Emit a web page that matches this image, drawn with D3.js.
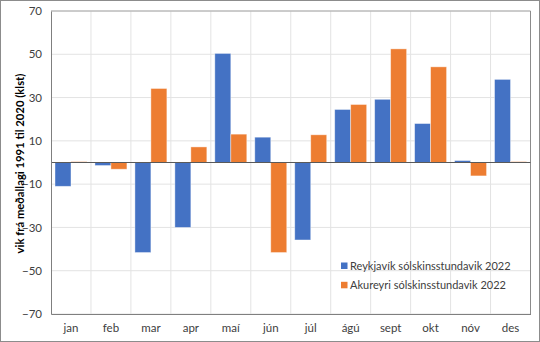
<!DOCTYPE html>
<html><head><meta charset="utf-8">
<script src="https://cdn.jsdelivr.net/npm/d3@7"></script>
<style>body{margin:0;background:#fff}svg{display:block}</style>
</head><body><svg id="c" width="540" height="342"></svg>
<script>
const months = ["jan","feb","mar","apr","maí","jún","júl","ágú","sept","okt","nóv","des"];
const reykjavik = [-11, -1.4, -41.6, -30, 50.4, 11.7, -35.8, 24.5, 29.2, 18.0, 0.9, 38.4];
const akureyri = [0.4, -3.1, 34.2, 7.2, 13.1, -41.6, 12.8, 26.8, 52.5, 44.2, -6.2, 0.4];
const yTicks = [-70, -50, -30, -10, 10, 30, 50, 70];
const seriesNames = ["Reykjavík sólskinsstundavik 2022", "Akureyri sólskinsstundavik 2022"];
const colors = ["#4472C4", "#ED7D31"];

const svg = d3.select("#c");
const font = "Lato, 'Liberation Sans', sans-serif";
svg.append("rect").attr("x",0.5).attr("y",0.5).attr("width",539).attr("height",341)
  .attr("fill","#fff").attr("stroke","#8c8c8c");

const L = 51, R = 530.5, T = 11, B = 314;
const x = d3.scaleBand().domain(months).range([L, R]).paddingInner(0).paddingOuter(0);
const x1 = d3.scaleBand().domain([0,1]).range([0, x.bandwidth()]).paddingOuter(0.25).paddingInner(0);
const y = d3.scaleLinear().domain([-70, 70]).range([B, T]);

// horizontal grid
svg.append("g").selectAll("line").data(yTicks).join("line")
  .attr("x1", L).attr("x2", R).attr("y1", d => y(d)).attr("y2", d => y(d))
  .attr("stroke", "#e3e3e3").attr("stroke-width", 1);
// vertical grid
svg.append("g").selectAll("line").data(months.slice(1)).join("line")
  .attr("x1", d => x(d)).attr("x2", d => x(d)).attr("y1", T).attr("y2", B)
  .attr("stroke", "#e3e3e3").attr("stroke-width", 1);

// plot frame
svg.append("line").attr("x1",L).attr("x2",R).attr("y1",T).attr("y2",T).attr("stroke","#a6a6a6");
svg.append("line").attr("x1",R).attr("x2",R).attr("y1",T).attr("y2",B).attr("stroke","#8c8c8c");

// bars
const g = svg.append("g");
months.forEach((m, i) => {
  [reykjavik[i], akureyri[i]].forEach((v, s) => {
    g.append("rect")
      .attr("x", x(m) + x1(s))
      .attr("width", x1.bandwidth())
      .attr("y", y(Math.max(0, v)))
      .attr("height", Math.abs(y(v) - y(0)))
      .attr("fill", colors[s])
      .attr("stroke", "#ffffff").attr("stroke-opacity", 0.5).attr("stroke-width", 0.8);
  });
});

// zero line
svg.append("line").attr("x1",L).attr("x2",R).attr("y1",y(0)).attr("y2",y(0)).attr("stroke","#595959").attr("stroke-width",1);

// axes
const yAxis = svg.append("g").attr("transform", `translate(${L},0)`)
  .call(d3.axisLeft(y).tickValues(yTicks).tickSize(0).tickPadding(9));
yAxis.select(".domain").attr("stroke", "#7f7f7f");
yAxis.selectAll("text").attr("font-family", font).attr("font-size", 11.5).attr("fill", "#404040");

const xAxis = svg.append("g").attr("transform", `translate(0,${B})`)
  .call(d3.axisBottom(x).tickSize(0).tickPadding(10));
xAxis.select(".domain").attr("stroke", "#7f7f7f");
xAxis.selectAll("text").attr("font-family", font).attr("font-size", 11.5).attr("fill", "#404040");

// y title
svg.append("text").attr("transform", `translate(24,${(T+B)/2 + 1}) rotate(-90)`)
  .attr("text-anchor","middle").attr("font-family", font).attr("font-weight","bold")
  .attr("font-size", 11.3).attr("fill","#000").text("vik frá meðallagi 1991 til 2020 (klst)");

// legend
const leg = svg.append("g");
seriesNames.forEach((n, i) => {
  const yy = 266 + i*19.3;
  leg.append("rect").attr("x", 341).attr("y", yy-3.5).attr("width", 6.5).attr("height", 6.5).attr("fill", colors[i]);
  leg.append("text").attr("x", 350).attr("y", yy+4).attr("font-family", font).attr("font-size", 11)
    .attr("fill","#404040").text(n);
});
</script></body></html>
